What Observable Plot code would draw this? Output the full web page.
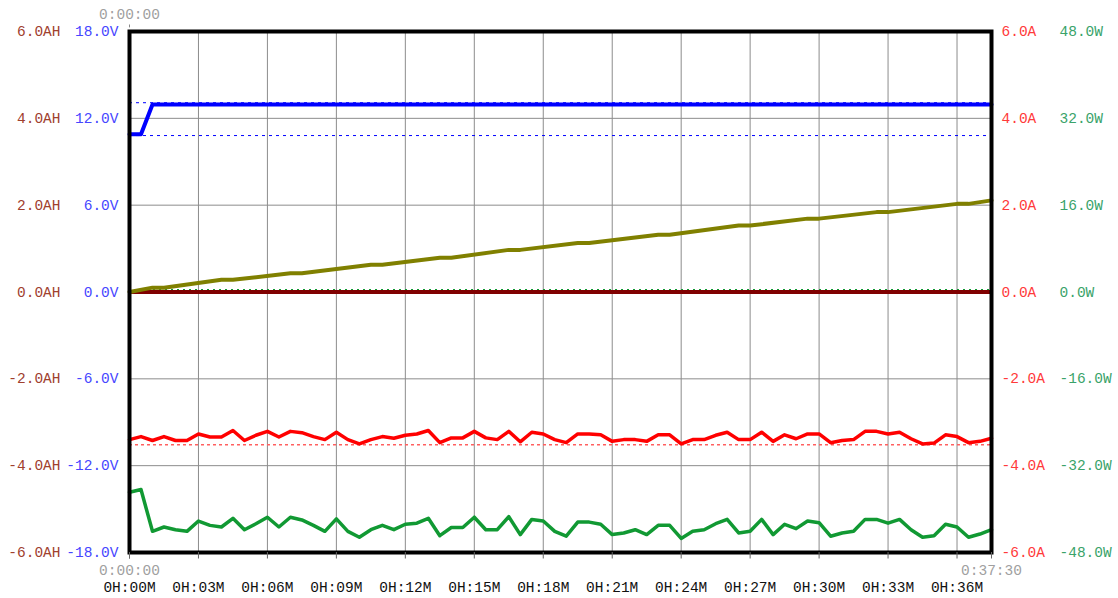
<!DOCTYPE html>
<html><head><meta charset="utf-8">
<script src="https://cdn.jsdelivr.net/npm/d3@7"></script>
<script src="https://cdn.jsdelivr.net/npm/@observablehq/plot@0.6"></script>
<style>
html,body{margin:0;padding:0;background:#fff;}
</style>
</head><body><div id="chart"></div>
<script>
// sample times (minutes)
const sampleMinutes = [0,0.5,1,1.5,2,2.5,3,3.5,4,4.5,5,5.5,6,6.5,7,7.5,8,8.5,9,9.5,10,10.5,11,11.5,12,12.5,13,13.5,14,14.5,15,15.5,16,16.5,17,17.5,18,18.5,19,19.5,20,20.5,21,21.5,22,22.5,23,23.5,24,24.5,25,25.5,26,26.5,27,27.5,28,28.5,29,29.5,30,30.5,31,31.5,32,32.5,33,33.5,34,34.5,35,35.5,36,36.5,37,37.5];
// current (A)
const currentA = [-3.40,-3.33,-3.42,-3.33,-3.42,-3.42,-3.27,-3.34,-3.34,-3.19,-3.42,-3.30,-3.21,-3.34,-3.21,-3.24,-3.33,-3.40,-3.23,-3.40,-3.50,-3.40,-3.33,-3.37,-3.30,-3.27,-3.19,-3.47,-3.36,-3.36,-3.21,-3.36,-3.40,-3.21,-3.45,-3.23,-3.27,-3.40,-3.47,-3.27,-3.27,-3.29,-3.44,-3.40,-3.40,-3.44,-3.29,-3.29,-3.50,-3.40,-3.40,-3.30,-3.23,-3.40,-3.40,-3.23,-3.44,-3.29,-3.38,-3.27,-3.27,-3.47,-3.42,-3.40,-3.21,-3.21,-3.27,-3.23,-3.38,-3.50,-3.48,-3.29,-3.33,-3.47,-3.44,-3.37];
// power (W)
const powerW = [-36.9,-36.4,-44.1,-43.3,-43.8,-44.1,-42.2,-43.0,-43.3,-41.7,-43.8,-42.7,-41.5,-43.3,-41.5,-42.0,-43.0,-44.1,-41.8,-44.1,-45.2,-43.8,-43.0,-43.8,-42.8,-42.6,-41.7,-44.9,-43.4,-43.4,-41.5,-43.8,-43.8,-41.4,-44.7,-41.9,-42.2,-44.1,-45.0,-42.4,-42.4,-42.8,-44.7,-44.4,-43.8,-44.7,-43.0,-43.0,-45.4,-44.1,-43.8,-42.7,-41.9,-44.4,-44.1,-41.9,-44.7,-42.8,-43.6,-42.2,-42.5,-45.0,-44.4,-44.1,-41.9,-41.9,-42.6,-41.9,-43.8,-45.2,-44.9,-42.8,-43.3,-45.2,-44.6,-43.8];
// capacity (AH)
const capacityMinutes = [0,1,1.5,4,4.5,7,7.5,10.5,11,13.5,14,16.5,17,19.5,20,23,23.5,26.5,27,29.5,30,32.5,33,36,36.5,37.5];
const capacityAH = [0,0.10,0.10,0.28,0.28,0.43,0.43,0.63,0.63,0.79,0.79,0.97,0.97,1.13,1.13,1.32,1.32,1.53,1.53,1.69,1.69,1.84,1.84,2.03,2.03,2.11];
// voltage (V)
const voltageMinutes = [0,0.5,1,37.5];
const voltageV = [10.9,10.9,12.95,12.95];
// reference (dotted) levels
const voltageLimits = [13.08,10.81];
const currentLimit = [-3.52];
const powerLimit = [0.4];
const zeroLevel = [0];
// ticks
const yTicks = [-18,-12,-6,0,6,12,18];
const xTicks = [0,3,6,9,12,15,18,21,24,27,30,33,36];
const xTickLabels = ["0H:00M","0H:03M","0H:06M","0H:09M","0H:12M","0H:15M","0H:18M","0H:21M","0H:24M","0H:27M","0H:30M","0H:33M","0H:36M"];
const edgeTimes = [0,37.5];
const edgeTimeLabels = ["0:00:00","0:37:30"];

const series = sampleMinutes.map((t,i)=>({t, a: currentA[i], w: powerW[i]}));
const cap = capacityMinutes.map((t,i)=>({t, ah: capacityAH[i]}));
const volt = voltageMinutes.map((t,i)=>({t, v: voltageV[i]}));
const edges = edgeTimes.map((t,i)=>({t, label: edgeTimeLabels[i]}));

// all series are plotted on the voltage scale (±18V); other units mapped to it
const ahToV = 18/6, aToV = 18/6, wToV = 18/48;
const fmt = (d) => (Math.abs(d) < 1e-9 ? 0 : d).toFixed(1);

const font = "Liberation Mono, DejaVu Sans Mono, monospace";
const plot = Plot.plot({
  width: 1118,
  height: 598,
  marginLeft: 129,
  marginRight: 127,
  marginTop: 31,
  marginBottom: 46,
  style: {fontFamily: font, fontSize: "14.5px", background: "#fff", overflow: "visible"},
  x: {domain: [0, 37.5]},
  y: {domain: [-18, 18]},
  marks: [
    Plot.gridX(xTicks, {stroke: "#8c8c8c", strokeOpacity: 1, strokeWidth: 1}),
    Plot.gridY(yTicks, {stroke: "#8c8c8c", strokeOpacity: 1, strokeWidth: 1}),
    Plot.ruleY(voltageLimits, {stroke: "#0000ff", strokeWidth: 1, strokeDasharray: "3,4"}),
    Plot.ruleY(currentLimit, {y: d => d*aToV, stroke: "#ff6060", strokeWidth: 1.5, strokeDasharray: "3,3"}),
    Plot.ruleY(powerLimit, {y: d => d*wToV, stroke: "#119933", strokeWidth: 1.5, strokeDasharray: "2,4"}),
    Plot.ruleY(zeroLevel, {stroke: "#800000", strokeWidth: 4}),
    Plot.line(cap, {x: "t", y: d => d.ah*ahToV, stroke: "#808000", strokeWidth: 4}),
    Plot.line(volt, {x: "t", y: "v", stroke: "#0000ff", strokeWidth: 4}),
    Plot.line(series, {x: "t", y: d => d.a*aToV, stroke: "#ff0000", strokeWidth: 3.5}),
    Plot.line(series, {x: "t", y: d => d.w*wToV, stroke: "#119933", strokeWidth: 3.5}),
    Plot.frame({stroke: "#000", strokeWidth: 4}),
    // left axes
    Plot.axisY(yTicks, {anchor: "left", tickSize: 0, tickPadding: 69, color: "#a0402e", tickFormat: d => fmt(d/ahToV) + "AH", label: null, fontFamily: font}),
    Plot.axisY(yTicks, {anchor: "left", tickSize: 0, tickPadding: 11, color: "#4646ff", tickFormat: d => fmt(d) + "V", label: null, fontFamily: font}),
    // right axes
    Plot.axisY(yTicks, {anchor: "right", tickSize: 0, tickPadding: 10, color: "#ff3a3a", tickFormat: d => fmt(d/aToV) + "A", label: null, fontFamily: font}),
    Plot.axisY(yTicks, {anchor: "right", tickSize: 0, tickPadding: 68, color: "#3aa36a", tickFormat: d => fmt(d/wToV) + "W", label: null, fontFamily: font}),
    // bottom tick marks (below frame) and top-left tick
    Plot.ruleX(edgeTimes.concat(xTicks), {y1: -18, y2: -18.45, stroke: "#666", strokeWidth: 1}),
    Plot.ruleX([0], {y1: 18.25, y2: 18.45, stroke: "#888", strokeWidth: 1}),
    // bottom axis labels
    Plot.axisX(xTicks, {anchor: "bottom", tickSize: 0, tickPadding: 29, fill: "#111", tickFormat: (d,i) => xTickLabels[i], label: null, fontFamily: font}),
    Plot.text(edges, {x: "t", y: -18, dy: 18, text: "label", fill: "#a0a0a0", fontFamily: font}),
    Plot.text(edges.slice(0,1), {x: "t", y: 18, dy: -17, text: "label", fill: "#a0a0a0", fontFamily: font})
  ]
});
document.getElementById("chart").appendChild(plot);
</script>
</body></html>
